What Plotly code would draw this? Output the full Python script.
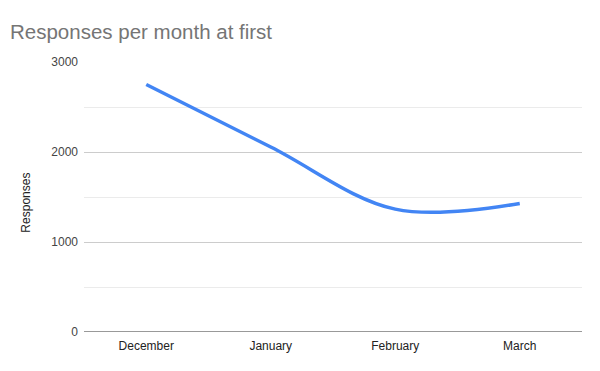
import plotly.graph_objects as go

months = ["December", "January", "February", "March"]
responses = [2750, 2055, 1365, 1428]
y_ticks = [0, 1000, 2000, 3000]
title_text = "Responses per month at first"
y_title = "Responses"

fig = go.Figure()
fig.add_trace(go.Scatter(
    x=months, y=responses, mode="lines",
    line=dict(color="#4285F4", width=3.5, shape="spline", smoothing=1),
    hoverinfo="x+y", showlegend=False,
))

fig.update_layout(
    width=600, height=371,
    margin=dict(l=84, r=18, t=62, b=39),
    paper_bgcolor="white", plot_bgcolor="white",
    font=dict(family="Liberation Sans, Arial, sans-serif", size=12, color="#222222"),
    title=dict(text=title_text, x=10/600, xref="container", xanchor="left",
               y=1-32/371, yref="container", yanchor="middle",
               font=dict(size=20.5, color="#757575", family="Liberation Sans, Arial, sans-serif")),
    xaxis=dict(type="category", range=[-0.5, 3.5], showgrid=False, showline=False,
               zeroline=False, ticks="", tickfont=dict(size=12, color="#222222"),
               ticklabelstandoff=5, fixedrange=True),
    yaxis=dict(range=[0, 3000], tickvals=y_ticks, showgrid=True, gridcolor="#cccccc",
               gridwidth=1, zeroline=False, showline=False, ticks="",
               tickfont=dict(size=12, color="#444444"), ticklabelstandoff=5,
               minor=dict(dtick=500, showgrid=True, gridcolor="#ebebeb", gridwidth=1),
               fixedrange=True),
    annotations=[dict(text=y_title, textangle=-90, xref="paper", yref="paper",
                      x=-0.116, y=0.48, xanchor="center", yanchor="middle",
                      showarrow=False, font=dict(size=12, color="#222222"))],
    shapes=[dict(type="line", xref="paper", yref="y", x0=0, x1=1, y0=0, y1=0,
                 line=dict(color="#333333", width=1))],
)

fig.write_html("out.html")
